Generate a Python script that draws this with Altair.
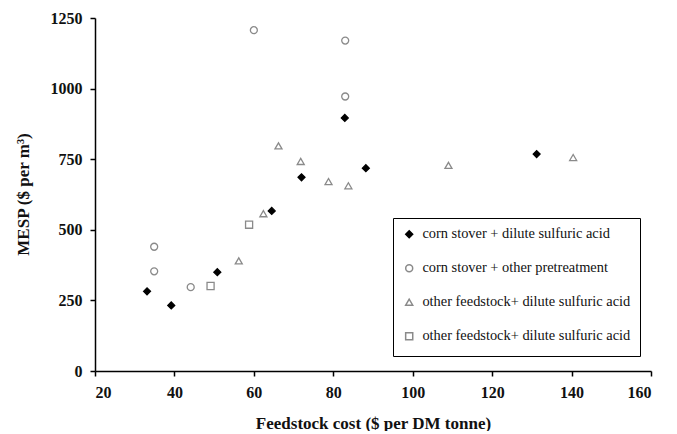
import altair as alt
import pandas as pd

# ---- data ----
series_names = [
    "corn stover + dilute sulfuric acid",
    "corn stover + other pretreatment",
    "other feedstock+ dilute sulfuric acid",
    "other feedstock+ dilute sulfuric acid ",  # same label in the original; trailing space keeps it distinct
]

corn_dilute_x = [33.1, 39.2, 50.8, 64.5, 72.0, 82.9, 88.2, 131.2]
corn_dilute_y = [282, 232, 350, 567, 686, 896, 718, 768]

corn_other_x = [60.0, 83.0, 83.0, 34.9, 34.9, 44.1]
corn_other_y = [1207, 1170, 972, 440, 353, 297]

other_dilute_x = [66.2, 71.8, 78.8, 83.8, 62.4, 56.2, 109.0, 140.4]
other_dilute_y = [797, 742, 671, 656, 557, 390, 728, 756]

other_dilute2_x = [58.8, 49.1]
other_dilute2_y = [518, 301]

x_ticks = [20, 40, 60, 80, 100, 120, 140, 160]
y_ticks = [0, 250, 500, 750, 1000, 1250]

rows = []
for name, xs, ys in zip(
    series_names,
    [corn_dilute_x, corn_other_x, other_dilute_x, other_dilute2_x],
    [corn_dilute_y, corn_other_y, other_dilute_y, other_dilute2_y],
):
    for xv, yv in zip(xs, ys):
        rows.append({"cost": xv, "mesp": yv, "series": name})
df = pd.DataFrame(rows)

FONT = "'Liberation Serif', 'Times New Roman', Times, serif"
GRAY = "#8a8a8a"

shape_scale = alt.Scale(domain=series_names, range=["diamond", "circle", "triangle-up", "square"])
fill_scale = alt.Scale(domain=series_names, range=["#000000", "transparent", "transparent", "transparent"])
stroke_scale = alt.Scale(domain=series_names, range=["#000000", GRAY, GRAY, GRAY])
size_scale = alt.Scale(domain=series_names, range=[48, 50, 50, 55])

legend = alt.Legend(
    title=" ",
    titleOrient="bottom",
    titleFontSize=1,
    titlePadding=3,
    orient="none",
    legendX=298,
    legendY=200,
    padding=9,
    rowPadding=19,
    labelOffset=6,
    labelFont=FONT,
    labelFontSize=14.4,
    labelColor="#111111",
    labelLimit=400,
    strokeColor="#000000",
)

axis_common = dict(
    grid=False,
    tickSize=5,
    labelPadding=8,
    labelFont=FONT,
    labelFontSize=16,
    labelFontWeight="bold",
    labelColor="#111111",
    titleFont=FONT,
    titleFontSize=17,
    titleFontWeight="bold",
    titleColor="#111111",
    format="d",
)

points = alt.Chart(df).mark_point(opacity=1, strokeWidth=1.3).encode(
    x=alt.X(
        "cost:Q",
        scale=alt.Scale(domain=[20, 160], nice=False, zero=False),
        axis=alt.Axis(
            title="Feedstock cost ($ per DM tonne)",
            values=x_ticks,
            titleY=57,
            titleBaseline="alphabetic",
            **axis_common,
        ),
    ),
    y=alt.Y(
        "mesp:Q",
        scale=alt.Scale(domain=[0, 1250], nice=False),
        axis=alt.Axis(
            title="MESP ($ per m³)",
            values=y_ticks,
            titleX=-67,
            titleY=176,
            titleAlign="center",
            titleBaseline="alphabetic",
            **axis_common,
        ),
    ),
    shape=alt.Shape("series:N", scale=shape_scale, legend=legend, sort=series_names),
    fill=alt.Fill("series:N", scale=fill_scale, legend=legend, sort=series_names),
    stroke=alt.Stroke("series:N", scale=stroke_scale, legend=legend, sort=series_names),
    size=alt.Size("series:N", scale=size_scale, legend=legend, sort=series_names),
)

chart = points.properties(
    width=556,
    height=353,
    autosize=alt.AutoSizeParams(type="none"),
    padding={"left": 87, "top": 10, "right": 18, "bottom": 60},
    background="white",
).configure(font=FONT).configure_view(stroke=None).configure_axis(
    domainColor="#000000",
    domainWidth=1.5,
    tickColor="#000000",
    tickWidth=1.5,
    labelFont=FONT,
    titleFont=FONT,
).configure_legend(labelFont=FONT, titleFont=FONT)

chart.save("out.html", embed_options={"renderer": "svg", "actions": False})
